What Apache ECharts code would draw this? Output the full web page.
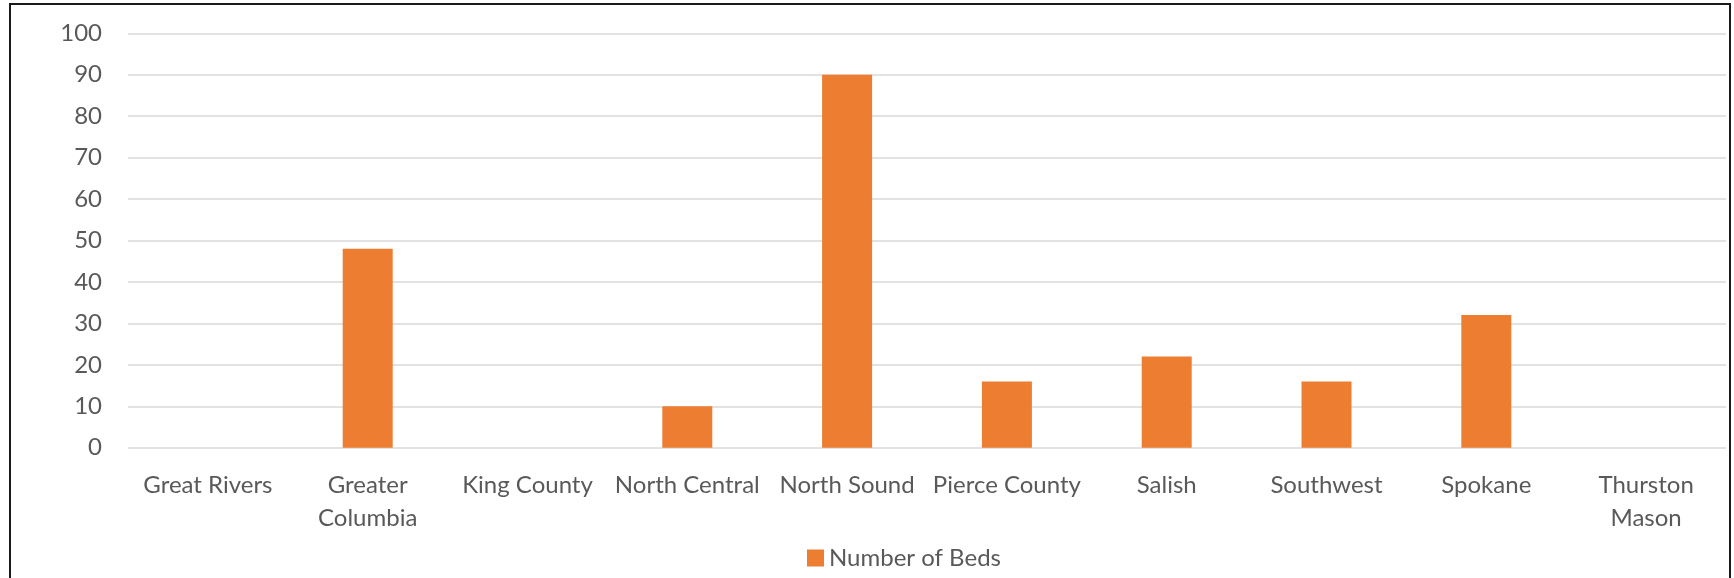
<!DOCTYPE html>
<html>
<head>
<meta charset="utf-8">
<script src="https://cdn.jsdelivr.net/npm/echarts@6/dist/echarts.min.js"></script>
<style>
  html, body { margin: 0; padding: 0; background: #fff; }
  #chart { width: 1734px; height: 578px; }
</style>
</head>
<body>
<div id="chart"></div>
<script>
// Regions and their bed counts
const regions = [
  'Great Rivers', 'Greater\nColumbia', 'King County', 'North Central', 'North Sound',
  'Pierce County', 'Salish', 'Southwest', 'Spokane', 'Thurston\nMason'
];
const beds = [0, 48, 0, 10, 90, 16, 22, 16, 32, 0];
const seriesName = 'Number of Beds';

const yMin = 0, yMax = 100, yStep = 10;

const textColor = '#595959';
const fontFamily = 'Lato, "Liberation Sans", sans-serif';
const fontSize = 24;

const chart = echarts.init(document.getElementById('chart'), null, { renderer: 'canvas' });
chart.setOption({
  backgroundColor: '#ffffff',
  animation: false,
  textStyle: { fontFamily: fontFamily },
  graphic: [{
    type: 'rect',
    shape: { x: 10, y: 4, width: 1720, height: 700 },
    style: { fill: 'none', stroke: '#1a1a1a', lineWidth: 2 },
    silent: true,
    z: 100
  }],
  grid: { left: 128, right: 8, top: 33.3, bottom: 130.3, containLabel: false },
  legend: {
    data: [seriesName],
    left: 807,
    top: 546,
    padding: 0,
    itemWidth: 17,
    itemHeight: 17,
    icon: 'rect',
    textStyle: { color: textColor, fontSize: fontSize, fontFamily: fontFamily }
  },
  xAxis: {
    type: 'category',
    data: regions,
    axisLine: { show: false },
    axisTick: { show: false },
    axisLabel: {
      interval: 0,
      color: textColor,
      fontSize: fontSize,
      lineHeight: 33,
      margin: 21,
      fontFamily: fontFamily
    }
  },
  yAxis: {
    type: 'value',
    min: yMin,
    max: yMax,
    interval: yStep,
    axisLine: { show: false },
    axisTick: { show: false },
    axisLabel: { color: textColor, fontSize: fontSize, margin: 26, fontFamily: fontFamily },
    splitLine: { lineStyle: { color: '#d9d9d9', width: 1.5 } }
  },
  series: [{
    name: seriesName,
    type: 'bar',
    data: beds,
    barWidth: 50,
    itemStyle: { color: '#ED7D31' }
  }]
});
</script>
</body>
</html>
